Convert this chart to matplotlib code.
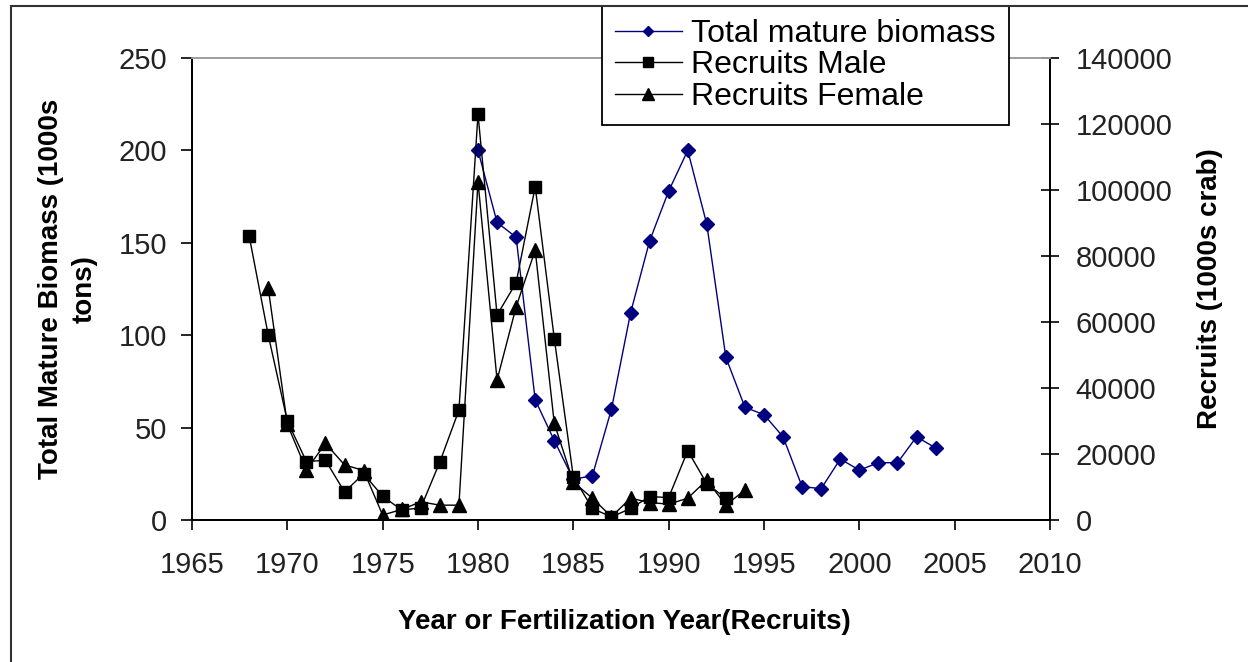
import matplotlib
matplotlib.use("Agg")
import matplotlib.pyplot as plt
from matplotlib.patches import Rectangle

# Data
biomass_years = list(range(1980, 2005))
biomass = [200, 161, 153, 65, 43, 22, 24, 60, 112, 151, 178, 200, 160, 88,
           61, 57, 45, 18, 17, 33, 27, 31, 31, 45, 39]

male_years = list(range(1968, 1994))
recruits_male = [86000, 56000, 30000, 17700, 18100, 8500, 14000, 7200, 3000,
                 3700, 17600, 33300, 123000, 62100, 71900, 101000, 55000,
                 13100, 3500, 900, 3500, 7100, 6800, 21000, 11000, 6600]

female_years = list(range(1969, 1995))
recruits_female = [70200, 29000, 15200, 23200, 16700, 15000, 1500, 3200, 5500,
                   4500, 4500, 102500, 42400, 64600, 81800, 29300, 11500, 6600,
                   1000, 6600, 5300, 4800, 6600, 12100, 4500, 9100]

x_ticks = list(range(1965, 2011, 5))
left_ticks = [0, 50, 100, 150, 200, 250]
right_ticks = list(range(0, 140001, 20000))

font = "Liberation Sans"
W, H = 1248, 662

fig = plt.figure(figsize=(W / 100, H / 100), dpi=100)
fig.patch.set_facecolor("white")
ax = fig.add_axes([192 / W, 1 - 520 / H, 858 / W, 462 / H])
ax2 = ax.twinx()

l1, = ax.plot(biomass_years, biomass, color="#000080", lw=1.0, marker="D",
              ms=7.0, label="Total mature biomass")
l2, = ax2.plot(male_years, recruits_male, color="black", lw=1.0, marker="s",
               ms=9.0, label="Recruits Male")
l3, = ax2.plot(female_years, recruits_female, color="black", lw=1.0,
               marker="^", ms=10, label="Recruits Female")

ax.set_xlim(1965, 2010)
ax.set_ylim(0, 250)
ax2.set_ylim(0, 140000)
ax.set_xticks(x_ticks)
ax.set_yticks(left_ticks)
ax2.set_yticks(right_ticks)

ax.yaxis.grid(True, color="#2b2b2b", lw=1.4)
ax.set_axisbelow(True)
for t in ax.yaxis.get_major_ticks():
    if t.get_loc() in (0, 250):
        t.gridline.set_visible(False)

for a in (ax, ax2):
    for s in ("left", "right", "bottom"):
        a.spines[s].set_color("black")
        a.spines[s].set_linewidth(1.3)
    a.spines["top"].set_color("#a0a0a0")
    a.spines["top"].set_linewidth(1.3)

tick_font = dict(labelsize=21, labelcolor="#222222")
ax.tick_params(axis="x", direction="out", length=7, width=1.2, pad=15, **tick_font)
ax.tick_params(axis="y", direction="out", length=8, width=1.2, pad=10, **tick_font)
ax2.tick_params(axis="y", direction="inout", length=13, width=1.2, pad=12, **tick_font)
for lab in ax.get_xticklabels() + ax.get_yticklabels() + ax2.get_yticklabels():
    lab.set_fontfamily(font)

fig.text(68 / W, 1 - 289 / H, "Total Mature Biomass (1000s\ntons)",
         rotation=90, ha="center", va="center", multialignment="center",
         fontsize=20, fontweight="bold", family=font, linespacing=1.4)
fig.text(1210 / W, 1 - 289 / H, "Recruits (1000s crab)", rotation=90,
         ha="center", va="center", fontsize=20, fontweight="bold", family=font)
fig.text(624 / W, 1 - 622 / H, "Year or Fertilization Year(Recruits)",
         ha="center", va="center", fontsize=20, fontweight="bold", family=font)

leg = ax2.legend(handles=[l1, l2, l3], loc="upper left",
                 bbox_to_anchor=(602 / W, 1 - 6 / H),
                 bbox_transform=fig.transFigure, frameon=True, fancybox=False,
                 edgecolor="black", framealpha=1, borderpad=0.4,
                 labelspacing=0.05, handlelength=2.1, handletextpad=0.3,
                 borderaxespad=0, markerscale=0.8,
                 prop={"family": font, "size": 23})
leg.get_frame().set_linewidth(1.3)
leg.set_zorder(10)

# outer chart-area frame
fig.patches.append(Rectangle((11 / W, -0.1), 2.0, 1 - 6 / H + 0.1,
                             transform=fig.transFigure, fill=False,
                             ec="#333333", lw=1.5, zorder=0))

fig.savefig("out.png", dpi=100)
